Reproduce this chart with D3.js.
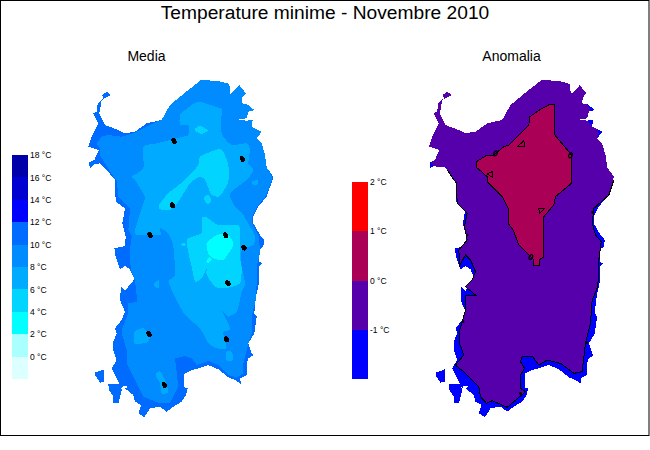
<!DOCTYPE html>
<html><head><meta charset="utf-8"><script src="https://cdnjs.cloudflare.com/ajax/libs/d3/7.8.5/d3.min.js"></script>
<style>html,body{margin:0;padding:0;background:#fff}svg{display:block}text{font-family:"Liberation Sans",Arial,sans-serif;fill:#000}</style></head><body>
<svg id="c" width="650" height="450"></svg>
<script>
// Map data in grid units (one unit = a third of a screen pixel)
const mainIsland=[[603,0],[640,2],[665,5],[688,12],[691,42],[705,30],[718,15],[725,25],[738,40],[727,52],[725,70],[740,72],[763,90],[745,95],[740,115],[715,118],[738,122],[758,120],[755,140],[770,148],[785,155],[770,175],[785,190],[795,225],[800,262],[820,290],[818,300],[805,335],[800,350],[775,380],[760,410],[760,430],[780,465],[793,480],[790,500],[777,510],[777,545],[787,550],[777,560],[777,610],[770,640],[767,660],[763,700],[770,710],[763,760],[745,790],[755,820],[760,825],[745,835],[740,850],[740,885],[720,895],[723,912],[705,900],[685,892],[655,868],[625,855],[595,865],[575,870],[555,880],[552,885],[552,922],[563,925],[558,945],[545,965],[520,980],[500,995],[480,980],[450,985],[433,1012],[415,1000],[423,975],[405,965],[400,945],[375,925],[385,920],[370,918],[365,925],[355,905],[345,885],[335,865],[350,840],[340,810],[340,785],[350,760],[345,745],[365,720],[375,695],[360,660],[363,620],[375,632],[403,598],[390,568],[375,558],[360,568],[347,530],[343,505],[375,498],[377,470],[367,430],[375,385],[347,365],[345,300],[320,270],[300,250],[285,252],[270,265],[267,248],[283,240],[297,210],[265,200],[275,170],[295,130],[280,100],[290,95],[293,70],[310,55],[307,45],[320,35],[333,45],[305,60],[300,90],[297,100],[315,135],[355,150],[375,160],[405,155],[440,130],[485,120],[510,75],[555,38]];
const islandSW1=[[285,878],[313,868],[313,905],[300,908],[285,885]];
const islandSW2=[[325,912],[360,912],[365,930],[355,970],[340,970],[340,950],[327,930]];
const band8to10=[[603,0],[640,2],[665,5],[688,12],[691,42],[705,30],[718,15],[725,25],[738,40],[727,52],[725,70],[740,72],[763,90],[745,95],[740,115],[715,118],[738,122],[758,120],[755,140],[770,148],[785,155],[770,175],[785,190],[795,225],[800,262],[817,292],[815,302],[802,335],[796,350],[771,380],[757,410],[757,430],[777,470],[780,520],[770,560],[770,610],[767,660],[755,710],[755,760],[745,790],[730,850],[730,880],[710,892],[685,885],[655,855],[625,843],[590,855],[575,835],[555,828],[525,835],[528,860],[535,920],[520,950],[510,970],[480,970],[430,950],[400,890],[380,850],[380,810],[365,760],[365,750],[385,700],[385,670],[412,665],[405,600],[392,570],[390,505],[395,470],[385,450],[390,385],[370,365],[355,350],[350,300],[340,290],[315,250],[300,225],[300,205],[290,190],[305,170],[325,165],[365,170],[405,158],[470,125],[485,120],[510,75],[555,38]];
const band6to8=[[540,135],[540,105],[555,90],[595,65],[660,85],[665,90],[665,160],[695,195],[740,190],[750,210],[745,250],[760,270],[740,300],[690,340],[705,380],[727,400],[750,440],[765,470],[760,495],[725,510],[725,560],[735,610],[725,635],[720,660],[710,695],[685,710],[665,690],[685,730],[690,750],[670,755],[675,785],[680,805],[650,805],[625,790],[600,745],[555,705],[530,660],[505,605],[525,585],[520,500],[505,460],[480,445],[480,465],[410,465],[405,450],[430,370],[435,350],[405,300],[395,290],[430,265],[430,200],[470,190],[550,170],[565,165],[565,135]];
const spot6to8a=[[403,755],[430,745],[450,770],[440,788],[403,790]];
const spot6to8b=[[467,885],[480,873],[495,900],[505,935],[485,942],[480,910]];
const spot6to8c=[[680,815],[695,815],[700,840],[680,842]];
const spot6to8d=[[463,610],[477,600],[477,622],[465,622]];
const spot6to8e=[[755,305],[772,300],[775,312],[760,316]];
const band4to6a=[[477,375],[505,340],[555,300],[595,255],[600,230],[655,207],[670,215],[685,255],[685,305],[660,348],[635,345],[615,300],[600,290],[570,310],[535,365],[510,390],[480,388]];
const band4to6b=[[583,150],[600,137],[623,152],[603,162]];
const band4to6c=[[613,350],[625,345],[635,360],[625,372],[615,365]];
const band4to6d=[[605,415],[620,412],[655,435],[715,435],[720,465],[720,535],[725,565],[720,610],[675,625],[645,620],[620,585],[620,565],[605,595],[585,605],[575,560],[560,480],[605,460]];
const band4to6e=[[545,490],[556,488],[556,498],[545,498]];
const band2to4a=[[620,490],[650,465],[685,465],[700,495],[670,540],[640,535],[625,520]];
const band2to4b=[[618,545],[628,530],[635,540],[625,550]];
const meanStations=[[522,183],[727,237],[517,376],[450,465],[677,466],[732,503],[684,610],[447,762],[679,778],[493,915]];
const anomalyPurple=[[603,0],[640,2],[665,5],[688,12],[691,42],[705,30],[718,15],[725,25],[738,40],[727,52],[725,70],[740,72],[750,90],[745,95],[740,115],[715,118],[738,122],[748,130],[755,140],[770,148],[775,160],[770,175],[785,190],[795,225],[800,262],[820,290],[818,300],[805,345],[760,385],[755,430],[765,465],[782,485],[775,540],[772,620],[755,660],[750,730],[735,790],[725,875],[700,880],[660,850],[620,840],[595,855],[575,828],[545,830],[540,845],[552,865],[540,885],[540,925],[555,935],[500,982],[455,962],[438,970],[420,950],[415,920],[375,880],[345,855],[370,825],[357,790],[358,750],[375,690],[375,645],[405,645],[375,620],[395,600],[405,575],[390,540],[375,525],[358,555],[355,510],[380,480],[372,440],[380,400],[350,370],[348,310],[320,270],[315,262],[290,262],[270,250],[283,240],[297,210],[265,200],[275,170],[295,130],[280,100],[290,95],[293,70],[310,55],[307,45],[320,35],[333,45],[305,60],[300,90],[297,100],[315,135],[355,150],[375,160],[405,155],[440,130],[485,120],[510,75],[555,38]];
const anomalyContour=[[820,300],[805,345],[760,385],[755,430],[765,465],[782,485],[775,540],[772,620],[755,660],[750,730],[735,790],[725,875],[700,880],[660,850],[620,840],[595,855],[575,828],[545,830],[540,845],[552,865],[540,885],[540,925],[555,935],[500,982],[455,962],[438,970],[420,950],[415,920],[375,880],[345,855],[370,825],[357,790],[358,750],[375,690],[375,645],[405,645],[375,620],[395,600],[405,575],[390,540],[375,525],[358,555],[355,510],[380,480],[372,440],[380,400],[350,370],[348,310],[320,270]];
const anomalyCrimson=[[630,72],[643,72],[643,165],[693,225],[693,310],[645,350],[640,375],[610,410],[610,530],[596,540],[596,556],[580,556],[580,540],[535,495],[518,450],[503,430],[503,385],[485,350],[440,305],[440,290],[408,262],[408,245],[435,228],[460,225],[490,200],[505,195],[565,135],[568,110],[600,88]];
const anomalyTriA=[[533,198],[552,198],[550,182]];
const anomalyTriB=[[440,282],[455,275],[455,292]];
const anomalyTriC=[[595,385],[612,385],[597,400]];
const anomalyRings=[[465,220],[690,226],[571,531]];
const anomalyTicks=[[380,465],[756,397],[368,725],[738,788],[540,940]];
// Legends
const meanEdges=[18,16,14,12,10,8,6,4,2,0,-2];
const meanColors=["#0000aa","#0000d0","#0000ff","#006cff","#008cff","#00aaff","#00d4ff","#00ffff","#aaffff","#dcffff"];
const meanTicks=[18,16,14,12,10,8,6,4,2,0];
const anomalyEdges=[2,1,0,-1,-2];
const anomalyColors=["#ff0000","#aa0055","#5500aa","#0000ff"];
const anomalyLegendTicks=[2,1,0,-1];

const svg=d3.select("#c");
svg.append("rect").attr("x",.5).attr("y",.5).attr("width",648.5).attr("height",435).attr("fill","#fff").attr("stroke","#000");
svg.append("text").attr("x",325).attr("y",19).attr("text-anchor","middle").attr("font-size",19.2).text("Temperature minime - Novembre 2010");
svg.append("text").attr("x",146.5).attr("y",61).attr("text-anchor","middle").attr("font-size",14).text("Media");
svg.append("text").attr("x",511.5).attr("y",61).attr("text-anchor","middle").attr("font-size",14).text("Anomalia");

const sy=d3.scaleLinear().domain([0,1050]).range([80,430]);
const sxL=d3.scaleLinear().domain([0,300]).range([0,100]);
const sxR=d3.scaleLinear().domain([0,300]).range([340.5,440.5]);
function panel(sx){
  const g=svg.append("g");
  const line=d3.line().x(d=>sx(d[0])).y(d=>sy(d[1])).curve(d3.curveLinearClosed);
  const round=d3.line().x(d=>sx(d[0])).y(d=>sy(d[1])).curve(d3.curveCardinalClosed.tension(0.4));
  const open=d3.line().x(d=>sx(d[0])).y(d=>sy(d[1]));
  return {g,
    fill:(pts,color,stroke)=>g.append("path").attr("d",line(pts)).attr("fill",color).attr("stroke",stroke||"none").attr("stroke-width",stroke?1:0).attr("shape-rendering","crispEdges"),
    smooth:(pts,color)=>g.append("path").attr("d",round(pts)).attr("fill",color).attr("shape-rendering","crispEdges"),
    stroke:(pts)=>g.append("path").attr("d",open(pts)).attr("fill","none").attr("stroke","#000").attr("stroke-width",1).attr("shape-rendering","crispEdges"),
    sx};
}
const L=panel(sxL);
[mainIsland,islandSW1,islandSW2].forEach(p=>L.fill(p,meanColors[3]));
L.fill(band8to10,meanColors[4]);
[band6to8,spot6to8a,spot6to8b,spot6to8c,spot6to8d,spot6to8e].forEach(p=>L.smooth(p,meanColors[5]));
[band4to6a,band4to6b,band4to6c,band4to6d,band4to6e].forEach(p=>L.smooth(p,meanColors[6]));
[band2to4a,band2to4b].forEach(p=>L.smooth(p,meanColors[7]));
L.g.selectAll(".st").data(meanStations).join("ellipse").attr("transform",d=>`translate(${sxL(d[0])},${sy(d[1])}) rotate(-30)`).attr("rx",2.4).attr("ry",3.2).attr("fill","#000").attr("shape-rendering","crispEdges");

const R=panel(sxR);
[mainIsland,islandSW1,islandSW2].forEach(p=>R.fill(p,"#0000ff"));
R.fill(anomalyPurple,anomalyColors[2]);
R.stroke(anomalyContour);
R.fill(anomalyCrimson,anomalyColors[1],"#000");
[anomalyTriA,anomalyTriB,anomalyTriC].forEach(p=>R.fill(p,"none","#000"));
R.g.selectAll(".ring").data(anomalyRings).join("ellipse").attr("transform",d=>`translate(${sxR(d[0])},${sy(d[1])}) rotate(30)`).attr("rx",1.6).attr("ry",2.6).attr("fill","none").attr("stroke","#000").attr("stroke-width",1.3);
R.g.selectAll(".tk").data(anomalyTicks).join("circle").attr("cx",d=>sxR(d[0])).attr("cy",d=>sy(d[1])).attr("r",1.3).attr("fill","#000");

function legend(edges,colors,ticks,x,y0,y1){
  const y=d3.scaleLinear().domain([d3.min(edges),d3.max(edges)]).range([y0,y1]);
  const g=svg.append("g");
  g.selectAll("rect").data(colors).join("rect").attr("x",x).attr("width",16)
   .attr("y",(d,i)=>y(edges[i])).attr("height",(d,i)=>y(edges[i+1])-y(edges[i])).attr("fill",d=>d).attr("shape-rendering","crispEdges");
  const axis=d3.axisRight(y).tickValues(ticks).tickSize(0).tickPadding(2).tickFormat(d=>d+" °C");
  const a=g.append("g").attr("transform",`translate(${x+16},0)`).call(axis);
  a.select(".domain").remove();
  a.selectAll("text").attr("font-size",8.5).attr("font-family",'"Liberation Sans",Arial,sans-serif').attr("fill","#000");
}
legend(meanEdges,meanColors,meanTicks,12,379,155);
legend(anomalyEdges,anomalyColors,anomalyLegendTicks,352,379,182);
</script></body></html>
